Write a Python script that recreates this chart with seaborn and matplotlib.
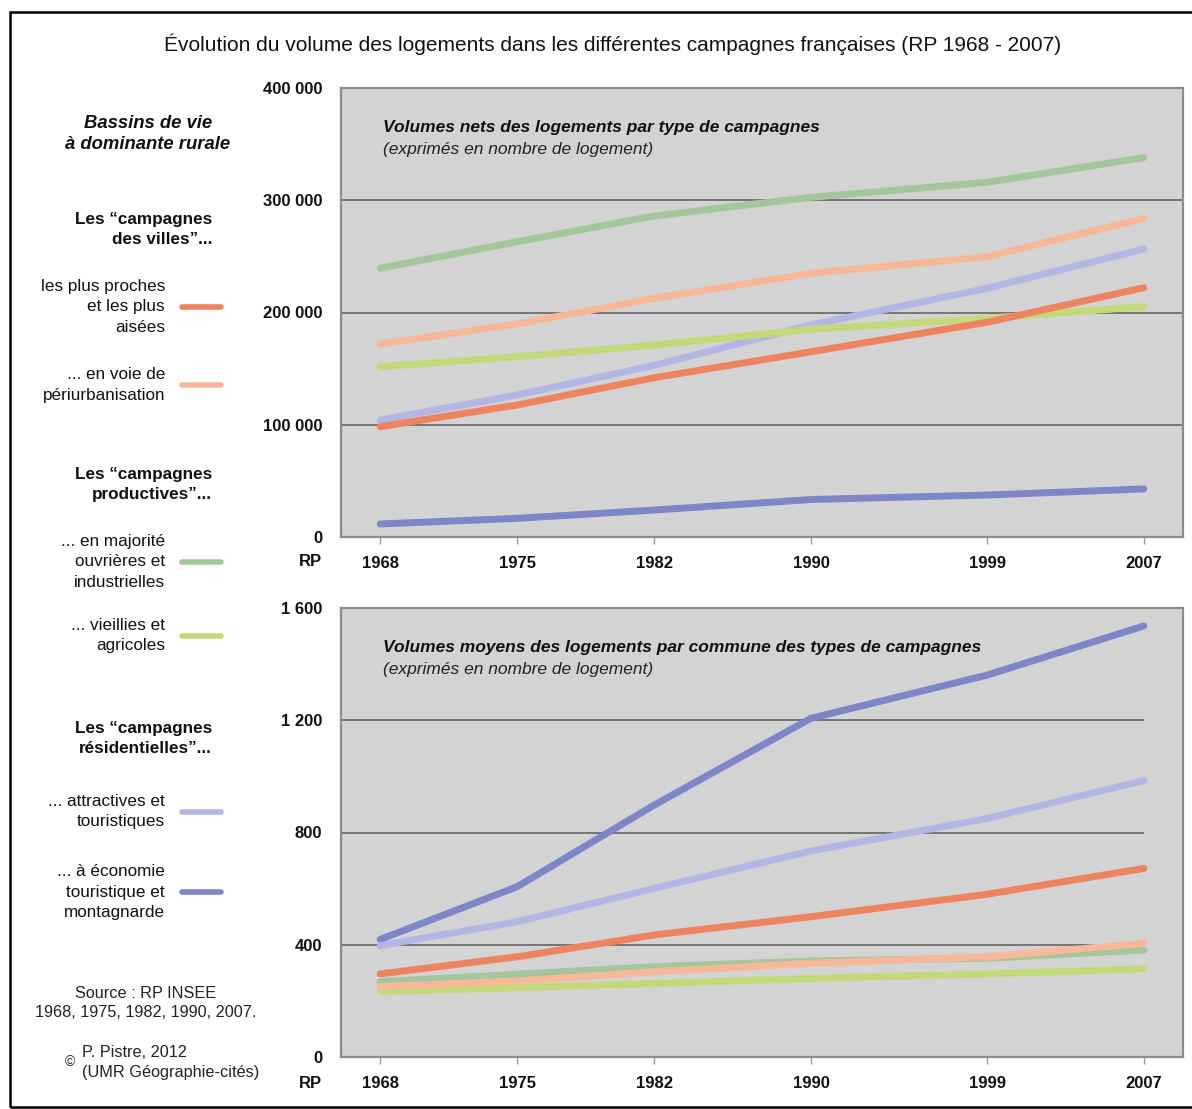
import numpy as np
import pandas as pd
import seaborn as sns
import matplotlib.pyplot as plt
from matplotlib.lines import Line2D
from matplotlib.patches import Rectangle

# --- données ---
annees = [1968, 1975, 1982, 1990, 1999, 2007]

types = ["proches", "periurb", "ouvrieres", "agricoles", "attractives", "montagne"]

couleurs = {
    "proches": "#EE8360",
    "periurb": "#F6B898",
    "ouvrieres": "#A3C69C",
    "agricoles": "#C3D97A",
    "attractives": "#B3B6E4",
    "montagne": "#7E86C8",
}

# volumes nets (nombre de logements)
nets_proches = [98300, 117600, 141900, 165000, 191300, 222100]
nets_periurb = [171900, 189800, 212600, 234900, 249700, 283900]
nets_ouvrieres = [239400, 263100, 286000, 302600, 316000, 338000]
nets_agricoles = [151700, 160600, 171000, 185000, 194800, 205200]
nets_attractives = [104200, 126500, 153000, 188900, 221600, 256600]
nets_montagne = [11600, 16600, 24000, 33400, 37400, 42800]

# volumes moyens par commune
moy_proches = [296, 357, 435, 500, 580, 672]
moy_periurb = [251, 271, 304, 334, 357, 405]
moy_ouvrieres = [268, 295, 322, 342, 352, 381]
moy_agricoles = [233, 247, 262, 280, 296, 314]
moy_attractives = [397, 482, 601, 734, 850, 985]
moy_montagne = [419, 607, 898, 1207, 1361, 1536]

nets = [nets_proches, nets_periurb, nets_ouvrieres, nets_agricoles, nets_attractives, nets_montagne]
moyens = [moy_proches, moy_periurb, moy_ouvrieres, moy_agricoles, moy_attractives, moy_montagne]

df_nets = pd.DataFrame([(t, a, v) for t, vals in zip(types, nets) for a, v in zip(annees, vals)],
                       columns=["type", "annee", "valeur"])
df_moy = pd.DataFrame([(t, a, v) for t, vals in zip(types, moyens) for a, v in zip(annees, vals)],
                      columns=["type", "annee", "valeur"])

sns.set_theme(style="white")
plt.rcParams["font.family"] = ["Liberation Sans", "DejaVu Sans"]

W, H = 1192, 1109
fig = plt.figure(figsize=(W / 100, H / 100), dpi=100)
fig.patch.set_facecolor("white")


def fx(px):
    return px / W


def fy(py):
    return 1 - py / H


# ordre de tracé (le dernier au-dessus)
ordre = ["montagne", "attractives", "agricoles", "ouvrieres", "periurb", "proches"]


def panneau(ax, df, ymax, pas, titre, grille_pleine):
    ax.set_facecolor("#D3D3D3")
    for t in ordre:
        sns.lineplot(data=df[df["type"] == t], x="annee", y="valeur", color=couleurs[t],
                     linewidth=5, solid_capstyle="round", ax=ax, legend=False, zorder=3)
    ax.set_xlim(1966, 2009)
    ax.set_ylim(0, ymax)
    ax.set_xticks(annees)
    ax.set_xticklabels([str(a) for a in annees], fontweight="bold", fontsize=12)
    yt = np.arange(0, ymax + 1, pas)
    ax.set_yticks(yt)
    ax.set_yticklabels([f"{v:,.0f}".replace(",", " ") for v in yt], fontweight="bold", fontsize=12)
    ax.tick_params(axis="x", length=5, width=1, color="#999999", pad=8.5, bottom=True, labelcolor="#111111")
    ax.tick_params(axis="y", length=0, pad=13.5, labelcolor="#111111")
    ax.set_xlabel("")
    ax.set_ylabel("")
    xfin = 2009 if grille_pleine else 2007
    ax.hlines(yt[1:-1], 1966, xfin, colors="#6E6E6E", linewidth=1.3, zorder=2)
    for s in ax.spines.values():
        s.set_visible(True)
        s.set_color("#8C8C8C")
        s.set_linewidth(1.6)
    ax.text(0.05, 0.911, titre, transform=ax.transAxes, fontsize=12.5, fontweight="bold",
            fontstyle="italic", va="center", ha="left", color="#111111")
    ax.text(0.05, 0.863, "(exprimés en nombre de logement)", transform=ax.transAxes, fontsize=12.5,
            fontstyle="italic", va="center", ha="left", color="#222222")


ax1 = fig.add_axes([fx(341), fy(537), fx(842), 449 / H])
ax2 = fig.add_axes([fx(341), fy(1057), fx(842), 449 / H])

panneau(ax1, df_nets, 400000, 100000, "Volumes nets des logements par type de campagnes", True)
panneau(ax2, df_moy, 1600, 400, "Volumes moyens des logements par commune des types de campagnes", False)

# titre général
fig.text(fx(613), fy(44), "Évolution du volume des logements dans les différentes campagnes françaises (RP 1968 - 2007)",
         ha="center", va="center", fontsize=15, color="#111111")

# "RP" sous les axes des y
for py in (562, 1084):
    fig.text(fx(322), fy(py), "RP", ha="right", va="center", fontsize=12, fontweight="bold", color="#111111")

# --- légende à gauche ---
fig.text(fx(148), fy(134), "Bassins de vie\nà dominante rurale", ha="center", va="center",
         fontsize=13.3, fontweight="bold", fontstyle="italic", linespacing=1.3, color="#111111")

entetes = [(229.5, "Les “campagnes\ndes villes”..."),
           (484.5, "Les “campagnes\nproductives”..."),
           (738.5, "Les “campagnes\nrésidentielles”...")]
for py, txt in entetes:
    fig.text(fx(212), fy(py), txt, ha="right", va="center", fontsize=12.3, fontweight="bold",
             linespacing=1.42, color="#111111")

elements = [
    ("proches", 307, "les plus proches\net les plus\naisées"),
    ("periurb", 385, "... en voie de\npériurbanisation"),
    ("ouvrieres", 562, "... en majorité\nouvrières et\nindustrielles"),
    ("agricoles", 635.5, "... vieillies et\nagricoles"),
    ("attractives", 811.5, "... attractives et\ntouristiques"),
    ("montagne", 892, "... à économie\ntouristique et\nmontagnarde"),
]
for t, py, txt in elements:
    fig.text(fx(165), fy(py), txt, ha="right", va="center", fontsize=12.3, linespacing=1.42, color="#111111")
    fig.add_artist(Line2D([fx(182), fx(221)], [fy(py), fy(py)], transform=fig.transFigure,
                          color=couleurs[t], linewidth=4, solid_capstyle="round"))

fig.text(fx(146), fy(1003), "Source : RP INSEE\n1968, 1975, 1982, 1990, 2007.", ha="center", va="center",
         fontsize=11.7, linespacing=1.4, color="#222222")
fig.text(fx(70), fy(1062), "©", ha="center", va="center", fontsize=10, color="#222222")
fig.text(fx(82), fy(1062.5), "P. Pistre, 2012\n(UMR Géographie-cités)", ha="left", va="center",
         fontsize=11.7, linespacing=1.4, color="#222222")

# cadre
fig.add_artist(Rectangle((fx(10), fy(1107)), fx(1190), (1107 - 12) / H, transform=fig.transFigure,
                         fill=False, edgecolor="black", linewidth=1.8))

fig.savefig("out.png", dpi=100, facecolor=fig.get_facecolor())
